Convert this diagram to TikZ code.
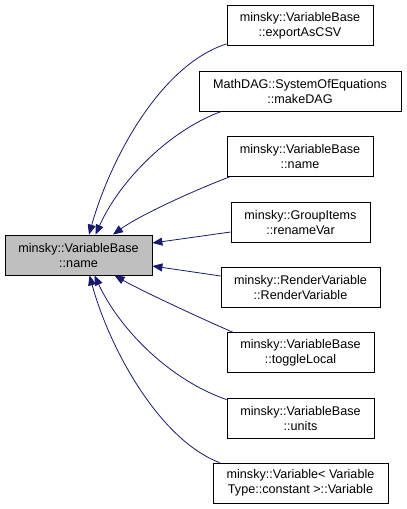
\documentclass[tikz,border=0pt]{standalone}
\usepackage{fontspec}
\setmainfont{Liberation Sans}
\usetikzlibrary{arrows.meta}
\definecolor{edgeblue}{RGB}{25,25,112}
\definecolor{maingray}{RGB}{191,191,191}
\begin{document}
\begin{tikzpicture}[x=1pt,y=-1pt,
  box/.style={draw=black, line width=0.8pt, fill=white, minimum height=40pt, inner sep=0pt, align=center, font=\fontsize{12.6}{15}\selectfont},
  mainbox/.style={box, fill=maingray},
  edge/.style={draw=edgeblue, line width=0.8pt, -{Triangle[length=10pt,width=8pt]}}]
\useasboundingbox (0,0) rectangle (407,509);
\node[mainbox, minimum width=147pt] (main) at (78.5,255) {minsky::VariableBase\\::name};
\node[box, minimum width=146pt] (b1) at (300,25.5) {minsky::VariableBase\\::exportAsCSV};
\node[box, minimum width=202pt] (b2) at (300,91) {MathDAG::SystemOfEquations\\::makeDAG};
\node[box, minimum width=146pt] (b3) at (300,156.5) {minsky::VariableBase\\::name};
\node[box, minimum width=139pt] (b4) at (300.5,222) {minsky::GroupItems\\::renameVar};
\node[box, minimum width=159pt] (b5) at (300.5,287) {minsky::RenderVariable\\::RenderVariable};
\node[box, minimum width=147pt] (b6) at (300.5,352.5) {minsky::VariableBase\\::toggleLocal};
\node[box, minimum width=147pt] (b7) at (300.5,418) {minsky::VariableBase\\::units};
\node[box, minimum width=175pt] (b8) at (300.5,483) {minsky::Variable< Variable\\Type::constant >::Variable};
\draw[edge] ([yshift=2pt]b1.south west) .. controls (160,65) and (110,160) .. ([xshift=10.5pt]main.north);
\draw[edge] ([xshift=23pt]b2.south west) .. controls (170,130) and (120,180) .. ([xshift=17pt]main.north);
\draw[edge] ([xshift=3pt]b3.south west) .. controls (195,190) and (140,215) .. ([xshift=34.5pt]main.north);
\draw[edge] ([yshift=-10pt]b4.west) -- ([yshift=12pt]main.east);
\draw[edge] ([yshift=11pt]b5.west) -- ([yshift=-11pt]main.east);
\draw[edge] ([xshift=6pt]b6.north west) .. controls (200,318) and (140,290) .. ([xshift=36pt]main.south);
\draw[edge] ([yshift=-2pt]b7.north west) .. controls (170,380) and (120,330) .. ([xshift=16pt]main.south);
\draw[edge] ([xshift=7pt]b8.north west) .. controls (160,440) and (110,350) .. ([xshift=11pt]main.south);
\end{tikzpicture}
\end{document}
